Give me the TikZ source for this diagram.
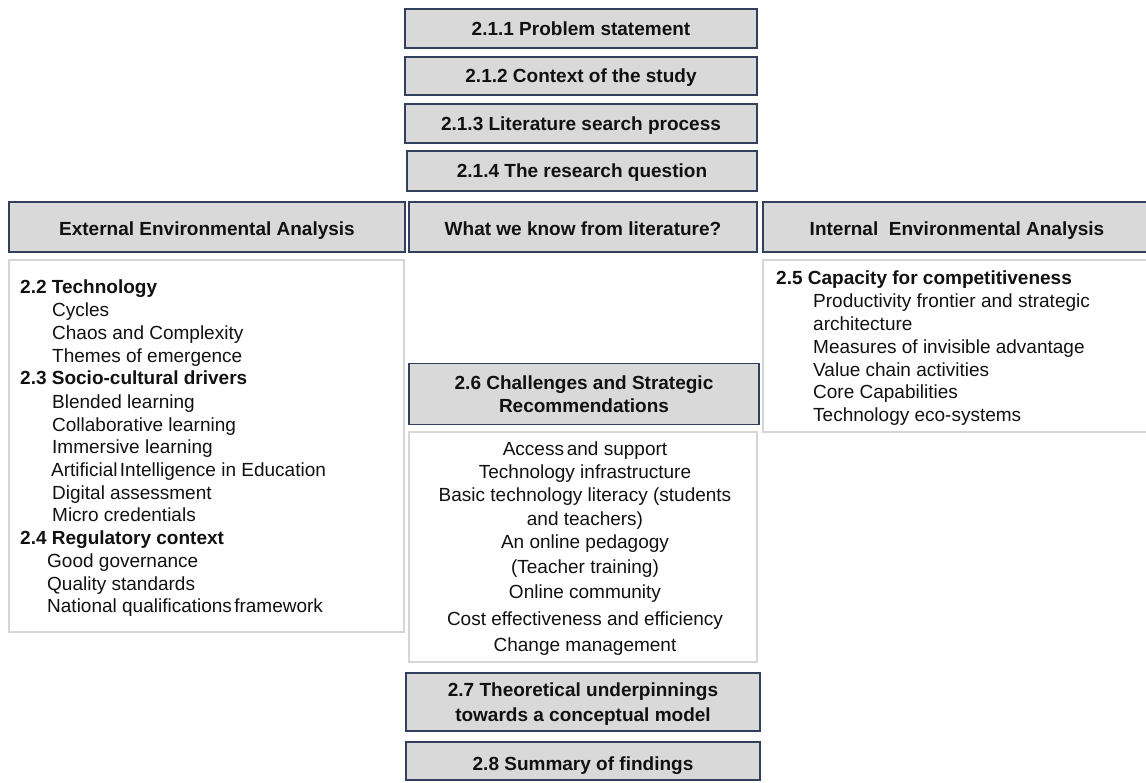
\documentclass[tikz,border=0pt]{standalone}
\usepackage{fontspec}
\setmainfont{Liberation Sans}
\definecolor{boxfill}{RGB}{217,217,217}
\definecolor{boxline}{RGB}{50,64,92}
\definecolor{panelline}{RGB}{214,214,214}
\definecolor{ink}{RGB}{17,17,17}
\tikzset{
  hdr/.style={draw=boxline, fill=boxfill, line width=1.6pt, inner sep=0pt,
    font=\fontsize{19}{20}\selectfont\bfseries, text=ink,
    text height=13.7pt, text depth=0pt},
  colhdr/.style={hdr, text height=17.7pt},
  hdrtext/.style={anchor=base, inner sep=0pt, font=\fontsize{19}{20}\selectfont\bfseries, text=ink},
  panel/.style={draw=panelline, line width=1.3pt, fill=white, inner sep=0pt},
  item/.style={anchor=base west, inner sep=0pt, font=\fontsize{19}{22}\selectfont, text=ink},
  head/.style={item, font=\fontsize{19}{22}\selectfont\bfseries},
  citem/.style={anchor=base, inner sep=0pt, font=\fontsize{19}{22}\selectfont, text=ink},
}
\begin{document}
\begin{tikzpicture}[x=1pt, y=-1pt]
\useasboundingbox (0,0) rectangle (1146,782);
\clip (0,0) rectangle (1146,782);

% top sequence of section boxes
\node[hdr, minimum width=352, minimum height=39] (p1) at (581,28.5) {2.1.1 Problem statement};
\node[hdr, minimum width=352, minimum height=38] (p2) at (581,76) {2.1.2 Context of the study};
\node[hdr, minimum width=352, minimum height=39] (p3) at (581,123.5) {2.1.3 Literature search process};
\node[hdr, minimum width=350, minimum height=40] (p4) at (582,171) {2.1.4 The research question};

% column headers
\node[colhdr, minimum width=396, minimum height=50] (ext) at (207,227) {External Environmental Analysis};
\node[colhdr, minimum width=348, minimum height=50] (know) at (583,227) {What we know from literature?};
\node[colhdr, minimum width=388, minimum height=50] (int) at (957,227) {Internal\ \ Environmental Analysis};

% content panels
\node[panel, minimum width=395, minimum height=372] (lpanel) at (206.5,446) {};
\node[panel, minimum width=390, minimum height=172] (rpanel) at (958,346) {};
\node[panel, minimum width=348, minimum height=230] (cpanel) at (583,547) {};

% external analysis list
\node[head] (t22) at (20,293) {2.2 Technology};
\node[item] (t22a) at (52,316) {Cycles};
\node[item] (t22b) at (52,339) {Chaos and Complexity};
\node[item] (t22c) at (52,362) {Themes of emergence};
\node[head] (t23) at (20,384) {2.3 Socio-cultural drivers};
\node[item] (t23a) at (52,408) {Blended learning};
\node[item] (t23b) at (52,431) {Collaborative learning};
\node[item] (t23c) at (52,453) {Immersive learning};
\node[item] (t23d) at (51,476) {Artificial\hspace{0.12em}Intelligence in Education};
\node[item] (t23e) at (52,499) {Digital assessment};
\node[item] (t23f) at (52,521) {Micro credentials};
\node[head] (t24) at (20,544) {2.4 Regulatory context};
\node[item] (t24a) at (47,567) {Good governance};
\node[item] (t24b) at (47,590) {Quality standards};
\node[item] (t24c) at (47,612) {National qualifications\hspace{0.12em}framework};

% internal analysis list
\node[head] (t25) at (776,284) {2.5 Capacity for competitiveness};
\node[item] (t25a) at (813,307) {Productivity frontier and strategic};
\node[item] (t25b) at (813,330) {architecture};
\node[item] (t25c) at (813,353) {Measures of invisible advantage};
\node[item] (t25d) at (813,376) {Value chain activities};
\node[item] (t25e) at (813,398) {Core Capabilities};
\node[item] (t25f) at (813,421) {Technology eco-systems};

% challenges and recommendations
\node[hdr, minimum width=350, minimum height=61] (ch) at (584,394) {};
\node[hdrtext] (ch1) at (584,389) {2.6 Challenges and Strategic};
\node[hdrtext] (ch2) at (584,412) {Recommendations};
\node[citem] (c1) at (585,455) {Access\hspace{0.15em}and support};
\node[citem] (c2) at (585,478) {Technology infrastructure};
\node[citem] (c3) at (585,501) {Basic technology literacy (students};
\node[citem] (c4) at (585,525) {and teachers)};
\node[citem] (c5) at (585,548) {An online pedagogy};
\node[citem] (c6) at (585,573) {(Teacher training)};
\node[citem] (c7) at (585,598) {Online community};
\node[citem] (c8) at (585,625) {Cost effectiveness and efficiency};
\node[citem] (c9) at (585,651) {Change management};

% closing sections
\node[hdr, minimum width=354, minimum height=58] (th) at (583,702) {};
\node[hdrtext] (th1) at (583,696) {2.7 Theoretical underpinnings};
\node[hdrtext] (th2) at (583,721) {towards a conceptual model};
\node[hdr, minimum width=354, minimum height=38, text height=18.7pt] (sum) at (583,761) {2.8 Summary of findings};
\end{tikzpicture}
\end{document}
